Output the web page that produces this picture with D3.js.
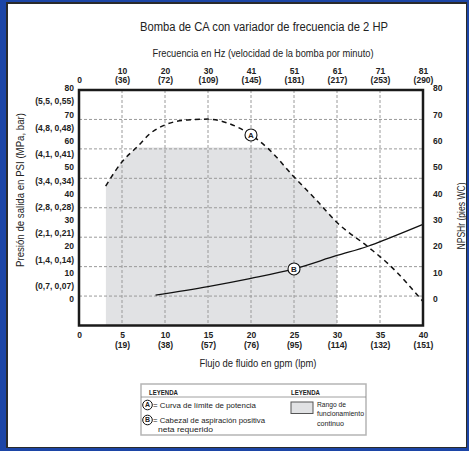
<!DOCTYPE html>
<html><head><meta charset="utf-8">
<script src="https://cdn.jsdelivr.net/npm/d3@7"></script>
<style>
html,body{margin:0;padding:0;background:#fff;}
svg text{font-family:"Liberation Sans",Arial,sans-serif;fill:#222;}
</style></head><body>
<script>
// ---- data ----
const title = "Bomba de CA con variador de frecuencia de 2 HP";
const topTitle = "Frecuencia en Hz (velocidad de la bomba por minuto)";
const xTitle = "Flujo de fluido en gpm (lpm)";
const yLeftTitle = "Presión de salida en PSI (MPa, bar)";
const yRightTitle = "NPSHr (pies WC)";
const xTicks = [0,5,10,15,20,25,30,35,40];
const xTickLpm = ["","(19)","(38)","(57)","(76)","(95)","(114)","(132)","(151)"];
const topHz = ["0","10","20","30","41","51","61","71","81"];
const topHzLpm = ["","(36)","(72)","(109)","(145)","(181)","(217)","(253)","(290)"];
const psiTicks = [0,10,20,30,40,50,60,70,80];
const mpaMid = [5,15,25,35,45,55,65,75];
const mpaLabels = ["(0,7, 0,07)","(1,4, 0,14)","(2,1, 0,21)","(2,8, 0,28)","(3,4, 0,34)","(4,1, 0,41)","(4,8, 0,48)","(5,5, 0,55)"];
const ftTicks = [0,10,20,30,40,50,60,70,80];
const gridRows = [1,2,3,4,5,6,7];
// curve A: power limit (gpm, psi)
const curveA = [[3.1,42.8],[5,52],[6.8,57.8],[8.3,62.8],[10,66],[12.6,67.9],[15,68.2],[17.2,66.8],[20,62.2],[22,57],[25,46.3],[27.6,37.5],[30,29],[33.6,19.8],[36.1,12.9],[40,-1]];
// curve B: NPSHr (gpm, ft)
const curveB = [[8.9,1.5],[15,4.7],[20,7.8],[25,11.4],[30,16.5],[33.6,20],[36,23],[40,28.3]];
const labelA = [20,62.2];
const labelB = [25,11.4];
const shadeRange = [3.1,30];
const shadeCap = 57.4;

const W=469,H=451;
const svg=d3.select("body").append("svg").attr("width",W).attr("height",H);

// border
svg.append("rect").attr("x",0).attr("y",0).attr("width",W).attr("height",H).attr("fill","#1c45a6");
svg.append("rect").attr("x",6).attr("y",2).attr("width",W-8).attr("height",H-5).attr("fill","#2a2a2a");
svg.append("rect").attr("x",8).attr("y",4).attr("width",W-11).attr("height",H-8).attr("fill","#fff");

const L=79,R=423,T=90,B=325.5;
const x=d3.scaleLinear().domain([0,40]).range([L,R]);
const y=d3.scaleLinear().domain([0,80]).range([299,88]);      // label / data scale
const yGrid=d3.scaleLinear().domain([0,8]).range([B,T]);       // grid rows

// shading
const defs=svg.append("defs");
defs.append("clipPath").attr("id","shadeClip").append("rect")
  .attr("x",x(shadeRange[0])).attr("y",y(shadeCap))
  .attr("width",x(shadeRange[1])-x(shadeRange[0])).attr("height",B-y(shadeCap));
const area=d3.area().x(d=>x(d[0])).y0(B).y1(d=>y(d[1])).curve(d3.curveMonotoneX);
svg.append("path").datum(curveA).attr("d",area).attr("fill","#e1e2e4").attr("clip-path","url(#shadeClip)");

// grid
const grid=svg.append("g").attr("stroke","#9a9a9a").attr("stroke-width",1).attr("stroke-dasharray","3,2");
grid.selectAll("line.h").data(gridRows).join("line")
  .attr("x1",L).attr("x2",R).attr("y1",d=>yGrid(d)).attr("y2",d=>yGrid(d));
grid.selectAll("line.v").data(xTicks.slice(1,-1)).join("line")
  .attr("x1",d=>x(d)).attr("x2",d=>x(d)).attr("y1",T).attr("y2",B);

// curves
const line=d3.line().x(d=>x(d[0])).y(d=>y(d[1])).curve(d3.curveMonotoneX);
svg.append("path").datum(curveA).attr("d",line).attr("fill","none").attr("stroke","#111").attr("stroke-width",1.5).attr("stroke-dasharray","5,4");
svg.append("path").datum(curveB).attr("d",line).attr("fill","none").attr("stroke","#111").attr("stroke-width",1.3);

// curve badges
[[labelA,"A"],[labelB,"B"]].forEach(([p,t])=>{
  const g=svg.append("g").attr("transform",`translate(${x(p[0])},${y(p[1])})`);
  g.append("circle").attr("r",6).attr("fill","#fff").attr("stroke","#111").attr("stroke-width",1.1);
  g.append("text").attr("text-anchor","middle").attr("dy","0.35em").attr("font-size",8).attr("font-weight","bold").text(t);
});

// frame
svg.append("rect").attr("x",L).attr("y",T).attr("width",R-L).attr("height",B-T)
  .attr("fill","none").attr("stroke","#1a1a1a").attr("stroke-width",2.5);

const TF=8.5; // tick font size
// bottom axis
const bAx=svg.append("g").attr("transform",`translate(0,${B})`)
  .call(d3.axisBottom(x).tickValues(xTicks).tickSize(0).tickPadding(6).tickFormat(d=>d));
bAx.select(".domain").remove();
bAx.selectAll(".tick text").attr("font-size",TF).attr("font-weight","bold").attr("fill","#222")
  .each(function(d,i){
    const t=d3.select(this);
    t.text(null);
    t.append("tspan").attr("x",0).attr("dy","0.71em").text(d);
    if(xTickLpm[i]) t.append("tspan").attr("x",0).attr("dy","1.2em").text(xTickLpm[i]);
  });

// top axis
const tAx=svg.append("g").attr("transform",`translate(0,${T})`)
  .call(d3.axisTop(x).tickValues(xTicks).tickSize(0).tickPadding(7).tickFormat((d,i)=>topHz[i]));
tAx.select(".domain").remove();
tAx.selectAll(".tick text").attr("font-size",TF).attr("font-weight","bold").attr("fill","#222")
  .each(function(d,i){
    const t=d3.select(this);
    const a=topHz[i], b=topHzLpm[i];
    t.text(null);
    if(b){
      t.append("tspan").attr("x",0).attr("dy","-1.1em").text(a);
      t.append("tspan").attr("x",0).attr("dy","1.1em").text(b);
    } else {
      t.append("tspan").attr("x",0).attr("dy","0em").text(a);
    }
  });

// left axis
const lAx=svg.append("g").attr("transform",`translate(${L},0)`)
  .call(d3.axisLeft(y).tickValues(psiTicks).tickSize(0).tickPadding(5));
lAx.select(".domain").remove();
lAx.selectAll(".tick text").attr("font-size",TF).attr("font-weight","bold").attr("fill","#222");
const lAx2=svg.append("g").attr("transform",`translate(${L},0)`)
  .call(d3.axisLeft(y).tickValues(mpaMid).tickSize(0).tickPadding(5).tickFormat((d,i)=>mpaLabels[i]));
lAx2.select(".domain").remove();
lAx2.selectAll(".tick text").attr("font-size",TF).attr("font-weight","bold").attr("fill","#222");

// right axis
const rAx=svg.append("g").attr("transform",`translate(${R},0)`)
  .call(d3.axisRight(y).tickValues(ftTicks).tickSize(0).tickPadding(10));
rAx.select(".domain").remove();
rAx.selectAll(".tick text").attr("font-size",TF).attr("font-weight","bold").attr("fill","#222");

// titles (data-w = measured target width)
svg.append("text").attr("x",264).attr("y",31).attr("text-anchor","middle").attr("font-size",12.5).attr("data-w",248).text(title);
svg.append("text").attr("x",263).attr("y",57).attr("text-anchor","middle").attr("font-size",10).attr("data-w",221).text(topTitle);
svg.append("text").attr("x",258).attr("y",367).attr("text-anchor","middle").attr("font-size",10).attr("data-w",117).text(xTitle);
svg.append("text").attr("transform","translate(24,190) rotate(-90)").attr("text-anchor","middle").attr("font-size",10).attr("data-w",154).text(yLeftTitle);
svg.append("text").attr("transform","translate(465,216) rotate(-90)").attr("text-anchor","middle").attr("font-size",10).attr("data-w",67).text(yRightTitle);

// legend
const lg=svg.append("g");
lg.append("rect").attr("x",141).attr("y",384).attr("width",225).attr("height",51).attr("fill","#fff").attr("stroke","#b5b5b5").attr("stroke-width",1.5);
lg.append("line").attr("x1",141).attr("x2",366).attr("y1",397).attr("y2",397).attr("stroke","#888").attr("stroke-width",0.8);
lg.append("text").attr("x",149).attr("y",394.5).attr("font-size",7.5).attr("font-weight","bold").attr("data-w",29).text("LEYENDA");
lg.append("text").attr("x",291).attr("y",394.5).attr("font-size",7.5).attr("font-weight","bold").attr("data-w",29).text("LEYENDA");
[["A",405],["B",420]].forEach(([t,cy])=>{
  lg.append("circle").attr("cx",147.5).attr("cy",cy).attr("r",4.8).attr("fill","#fff").attr("stroke","#111").attr("stroke-width",1);
  lg.append("text").attr("x",147.5).attr("y",cy).attr("dy","0.35em").attr("text-anchor","middle").attr("font-size",7).attr("font-weight","bold").text(t);
});
lg.append("text").attr("x",153).attr("y",407.5).attr("font-size",8).attr("data-w",103).text("= Curva de límite de potencia");
lg.append("text").attr("x",153).attr("y",422.5).attr("font-size",8).attr("data-w",112).text("= Cabezal de aspiración positiva");
lg.append("text").attr("x",158).attr("y",431.5).attr("font-size",8).attr("data-w",55).text("neta requerido");
lg.append("rect").attr("x",291).attr("y",402).attr("width",22).attr("height",11.5).attr("fill","#e1e2e4").attr("stroke","#555").attr("stroke-width",1);
lg.append("text").attr("x",317).attr("y",406.5).attr("font-size",8).attr("data-w",29).text("Rango de");
lg.append("text").attr("x",317).attr("y",416).attr("font-size",8).attr("data-w",47).text("funcionamiento");
lg.append("text").attr("x",317).attr("y",425.5).attr("font-size",8).attr("data-w",27).text("continuo");

// apply measured widths (reference uses a narrow typeface)
svg.selectAll("text[data-w]").each(function(){
  this.setAttribute("textLength",this.getAttribute("data-w"));
  this.setAttribute("lengthAdjust","spacingAndGlyphs");
});
</script>
</body></html>
